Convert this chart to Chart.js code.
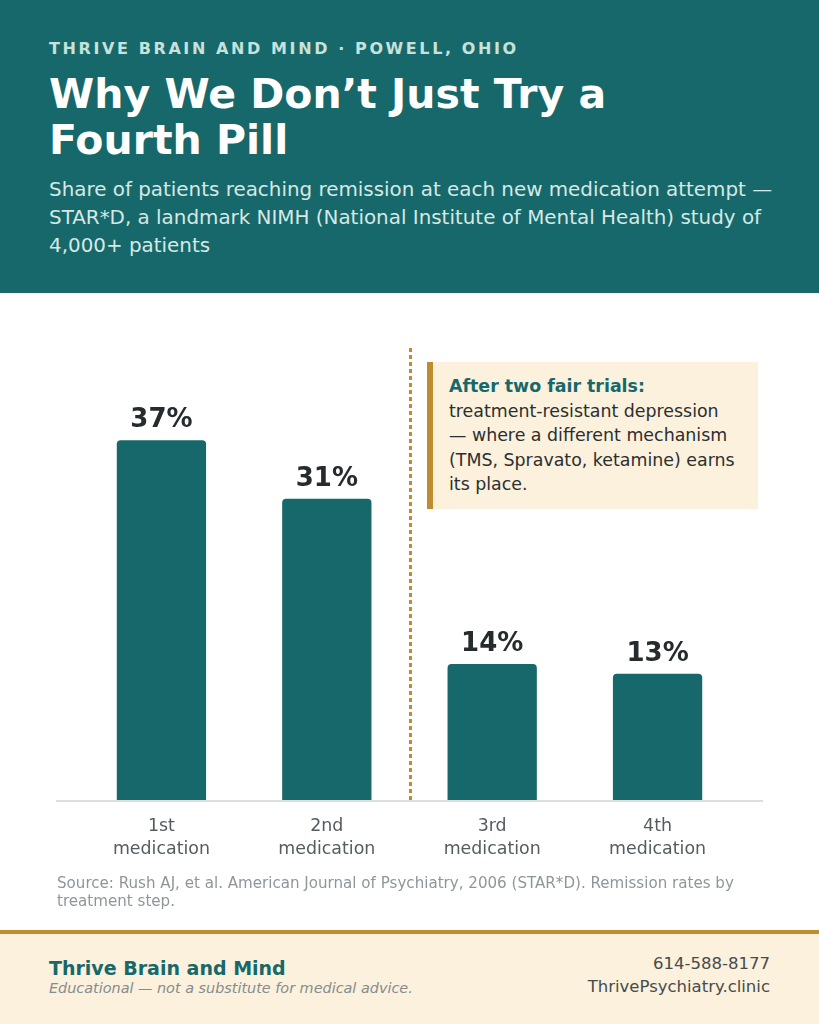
<!DOCTYPE html>
<html lang="en">
<head>
    <meta charset="UTF-8">
    <title>Why We Don't Just Try a Fourth Pill</title>
    <script src="https://cdn.jsdelivr.net/npm/chart.js"></script>
    <style>
        html, body { margin: 0; padding: 0; }
        body { width: 819px; height: 1024px; position: relative; overflow: hidden; background: #fff; font-family: "DejaVu Sans", sans-serif; }
        .header { position: absolute; left: 0; top: 0; width: 819px; height: 293px; background: #17686a; }
        .kicker { position: absolute; left: 49px; top: 39px; font-size: 16px; font-weight: bold; letter-spacing: 2.6px; color: #c6e2da; white-space: nowrap; }
        .title { position: absolute; left: 49px; top: 71px; font-size: 41px; font-weight: bold; line-height: 46px; color: #fff; }
        .subtitle { position: absolute; left: 49px; top: 176px; width: 745px; font-size: 19.9px; line-height: 28px; color: #d6e8e5; }
        .chart-wrap { position: absolute; left: 56px; top: 348px; width: 707px; height: 528px; }
        .note { position: absolute; left: 427px; top: 362px; width: 331px; height: 147px; background: #fbf1dc; border-left: 6px solid #bf8d30; box-sizing: border-box; padding: 12px 0 0 16px; font-size: 17.4px; line-height: 24.5px; color: #2b2f31; white-space: nowrap; }
        .note b { color: #17686a; }
        .source { position: absolute; left: 57px; top: 874px; width: 720px; font-size: 15.1px; line-height: 18px; color: #8e969a; }
        .footer { position: absolute; left: 0; top: 930px; width: 819px; height: 94px; background: #fbf1dc; border-top: 4px solid #bf8d30; box-sizing: border-box; }
        .f-name { position: absolute; left: 49px; top: 23px; font-size: 19px; font-weight: bold; color: #17686a; }
        .f-note { position: absolute; left: 49px; top: 46px; font-size: 14.4px; font-style: italic; color: #858c90; }
        .f-right { position: absolute; right: 49px; top: 18px; text-align: right; font-size: 16.5px; line-height: 23px; color: #464b4e; }
    </style>
</head>
<body>
    <div class="header">
        <div class="kicker">THRIVE BRAIN AND MIND · POWELL, OHIO</div>
        <div class="title">Why We Don’t Just Try a<br>Fourth Pill</div>
        <div class="subtitle">Share of patients reaching remission at each new medication attempt — STAR*D, a landmark NIMH (National Institute of Mental Health) study of 4,000+ patients</div>
    </div>

    <div class="chart-wrap"><canvas id="chartCanvas"></canvas></div>

    <div class="note"><b>After two fair trials:</b><br>treatment-resistant depression<br>— where a different mechanism<br>(TMS, Spravato, ketamine) earns<br>its place.</div>

    <div class="source">Source: Rush AJ, et al. American Journal of Psychiatry, 2006 (STAR*D). Remission rates by treatment step.</div>

    <div class="footer">
        <div class="f-name">Thrive Brain and Mind</div>
        <div class="f-note">Educational — not a substitute for medical advice.</div>
        <div class="f-right">614-588-8177<br>ThrivePsychiatry.clinic</div>
    </div>

    <script>
        // data
        var steps = [['1st', 'medication'], ['2nd', 'medication'], ['3rd', 'medication'], ['4th', 'medication']];
        var remission = [37, 31, 14, 13];
        var dividerAfter = 1; // dashed line between 2nd and 3rd

        var teal = '#17686a';
        var gold = '#bf8d30';

        // baseline across the full canvas width + dashed divider + value labels
        var extras = {
            id: 'extras',
            beforeDatasetsDraw: function(chart) {
                var ctx = chart.ctx, area = chart.chartArea, x = chart.scales.x;
                ctx.save();
                ctx.strokeStyle = '#dcdfe0';
                ctx.lineWidth = 2;
                ctx.beginPath();
                ctx.moveTo(0, area.bottom + 1);
                ctx.lineTo(chart.width, area.bottom + 1);
                ctx.stroke();

                var dx = (x.getPixelForValue(dividerAfter) + x.getPixelForValue(dividerAfter + 1)) / 2;
                ctx.strokeStyle = gold;
                ctx.lineWidth = 3;
                ctx.setLineDash([4, 3]);
                ctx.beginPath();
                ctx.moveTo(dx + 1, area.top);
                ctx.lineTo(dx + 1, area.bottom + 2);
                ctx.stroke();
                ctx.restore();
            },
            afterDatasetsDraw: function(chart) {
                var ctx = chart.ctx;
                ctx.save();
                ctx.font = 'bold 26px "DejaVu Sans"';
                ctx.fillStyle = '#262b2e';
                ctx.textAlign = 'center';
                ctx.textBaseline = 'alphabetic';
                chart.getDatasetMeta(0).data.forEach(function(bar, i) {
                    ctx.fillText(remission[i] + '%', bar.x, bar.y - 13);
                });
                ctx.restore();
            }
        };

        new Chart(document.getElementById('chartCanvas'), {
            type: 'bar',
            data: {
                labels: steps,
                datasets: [{
                    data: remission,
                    backgroundColor: teal,
                    borderRadius: { topLeft: 4, topRight: 4 },
                    borderSkipped: 'bottom',
                    barPercentage: 0.54,
                    categoryPercentage: 1
                }]
            },
            options: {
                responsive: true,
                maintainAspectRatio: false,
                animation: false,
                layout: { padding: { left: 22.75, right: 22.75, top: 0, bottom: 0 } },
                plugins: { legend: { display: false }, tooltip: { enabled: false } },
                scales: {
                    x: {
                        grid: { display: false, drawTicks: false },
                        border: { display: false },
                        ticks: { color: '#555c60', padding: 15, font: { family: 'DejaVu Sans', size: 17.4, lineHeight: 1.32 } }
                    },
                    y: { display: false, min: 0, max: 46.5 }
                }
            },
            plugins: [extras]
        });
    </script>
</body>
</html>
